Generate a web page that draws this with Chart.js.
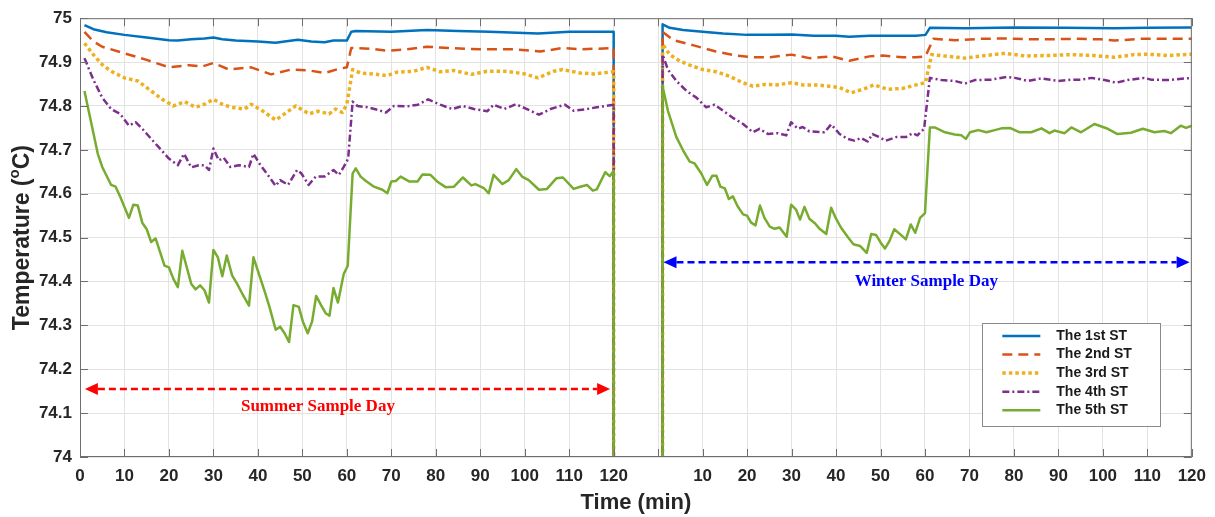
<!DOCTYPE html>
<html>
<head>
<meta charset="utf-8">
<script src="https://cdn.jsdelivr.net/npm/chart.js@4.4.1/dist/chart.umd.min.js"></script>
<style>
  html, body { margin: 0; padding: 0; background: #ffffff; }
  #wrap { width: 1215px; height: 517px; }
</style>
</head>
<body>
<div id="wrap"><canvas id="c" width="1215" height="517"></canvas></div>
<script>
// ---------------- DATA ----------------
const seriesNames = ['The 1st ST', 'The 2nd ST', 'The 3rd ST', 'The 4th ST', 'The 5th ST'];

// Summer sample day (minutes 1..120)
const st1SummerT = [1, 3, 6, 10, 15, 20, 22, 25, 28, 30, 32, 35, 40, 44, 46, 49, 52, 55, 57, 60, 61, 62, 70, 78, 85, 92, 103, 110, 120];
const st1SummerV = [74.984, 74.975, 74.968, 74.962, 74.956, 74.950, 74.949, 74.952, 74.954, 74.956, 74.952, 74.949, 74.947, 74.944, 74.947, 74.951, 74.947, 74.945, 74.949, 74.949, 74.969, 74.971, 74.969, 74.973, 74.971, 74.969, 74.965, 74.969, 74.969];

const st2SummerT = [1, 3, 5, 10, 15, 20, 24.5, 27.5, 30, 33.5, 38.5, 43, 47.5, 51.5, 55, 58, 60, 61, 66, 69, 73.5, 78, 83, 90, 97.5, 103.5, 108.5, 112.5, 120];
const st2SummerV = [74.969, 74.947, 74.935, 74.920, 74.905, 74.888, 74.893, 74.890, 74.898, 74.883, 74.888, 74.872, 74.883, 74.881, 74.875, 74.884, 74.888, 74.932, 74.930, 74.926, 74.929, 74.935, 74.932, 74.929, 74.929, 74.924, 74.932, 74.929, 74.932];

const st3SummerT = [1, 3, 5, 7, 10, 13, 15.5, 18.5, 21, 23.5, 26, 28, 30, 32, 34, 37, 38.5, 41, 44, 46, 48.5, 51.5, 53.5, 56, 57.5, 59, 60, 61.3, 63, 66, 69, 71.3, 75, 78, 81, 84, 88, 91.5, 96, 100, 103, 106.5, 108.5, 112.5, 115.5, 120];
const st3SummerV = [74.943, 74.917, 74.894, 74.879, 74.864, 74.857, 74.838, 74.815, 74.800, 74.810, 74.797, 74.804, 74.815, 74.804, 74.797, 74.793, 74.804, 74.789, 74.768, 74.782, 74.800, 74.782, 74.788, 74.782, 74.793, 74.785, 74.804, 74.883, 74.875, 74.873, 74.869, 74.877, 74.879, 74.888, 74.878, 74.881, 74.872, 74.879, 74.879, 74.873, 74.864, 74.879, 74.883, 74.875, 74.873, 74.878];

const st4SummerT = [1, 3, 5, 7, 9, 11, 12.5, 14, 16, 17.7, 20, 22, 23.4, 25, 26.7, 28, 29, 30, 31.2, 32.3, 33.8, 35.7, 38, 39, 40.6, 42, 44, 45, 46.8, 48.8, 49.8, 51.4, 53, 55, 57, 58.2, 59.3, 60.3, 61.3, 62.4, 64.6, 67, 68.8, 70.6, 73.6, 76, 78.3, 81, 83.7, 86, 88.6, 91.6, 93, 95.4, 98, 100.5, 103.2, 105.8, 109, 111, 114, 116.2, 120];
const st4SummerV = [74.909, 74.860, 74.819, 74.793, 74.782, 74.755, 74.763, 74.748, 74.725, 74.706, 74.680, 74.665, 74.691, 74.660, 74.665, 74.665, 74.654, 74.703, 74.676, 74.682, 74.661, 74.665, 74.661, 74.691, 74.665, 74.646, 74.618, 74.631, 74.620, 74.654, 74.646, 74.620, 74.639, 74.639, 74.654, 74.643, 74.661, 74.680, 74.810, 74.800, 74.797, 74.791, 74.785, 74.800, 74.799, 74.803, 74.815, 74.803, 74.793, 74.800, 74.793, 74.788, 74.803, 74.793, 74.804, 74.793, 74.780, 74.793, 74.803, 74.789, 74.793, 74.797, 74.803];

const st5SummerT = [1, 4, 5, 7, 8, 9, 11, 12, 13, 14, 15, 16, 17, 19, 20, 21, 22, 23, 25, 26, 27, 28, 29, 30, 31, 32, 33, 34.2, 35.3, 36.5, 38, 39, 40.6, 41.7, 42.6, 44, 45, 46, 47, 48, 49.2, 50.1, 51.2, 52.2, 53.1, 54.2, 55.3, 56.1, 57, 58, 59.3, 60.2, 61.3, 62, 63.1, 64.3, 66.1, 68, 69.1, 70, 71, 72.1, 74, 75.9, 77, 78.8, 80.3, 82.2, 84.1, 86.1, 88, 88.9, 90.8, 91.9, 93, 95, 96.4, 98.1, 99.4, 100.9, 103.2, 105, 107.1, 108.6, 111, 112.5, 114, 115.3, 116.2, 118.1, 119.1, 120];
const st5SummerV = [74.834, 74.691, 74.661, 74.620, 74.616, 74.594, 74.545, 74.575, 74.573, 74.534, 74.519, 74.490, 74.498, 74.436, 74.432, 74.406, 74.387, 74.470, 74.395, 74.382, 74.391, 74.380, 74.352, 74.472, 74.455, 74.412, 74.459, 74.414, 74.395, 74.372, 74.345, 74.455, 74.406, 74.372, 74.342, 74.290, 74.297, 74.282, 74.262, 74.346, 74.342, 74.309, 74.282, 74.309, 74.367, 74.346, 74.327, 74.322, 74.385, 74.352, 74.417, 74.436, 74.646, 74.658, 74.639, 74.629, 74.616, 74.609, 74.601, 74.628, 74.629, 74.639, 74.628, 74.628, 74.644, 74.643, 74.628, 74.615, 74.616, 74.637, 74.619, 74.622, 74.613, 74.601, 74.643, 74.622, 74.631, 74.656, 74.639, 74.631, 74.609, 74.611, 74.635, 74.637, 74.611, 74.616, 74.620, 74.607, 74.610, 74.649, 74.640, 74.652];

// Winter sample day (minutes 1..120)
const st1WinterT = [1, 2.6, 5.6, 10, 14.6, 20, 25, 30, 35, 40, 43, 47.5, 52, 58, 60.1, 61.1, 69, 80, 91.4, 102.6, 110, 120];
const st1WinterV = [74.986, 74.978, 74.973, 74.969, 74.965, 74.962, 74.962, 74.963, 74.960, 74.960, 74.958, 74.960, 74.960, 74.960, 74.962, 74.978, 74.977, 74.979, 74.978, 74.977, 74.978, 74.979];

const st2WinterT = [1, 3.4, 8, 13, 17.6, 21.3, 25, 30, 34, 39, 43, 47.5, 50.5, 55, 58, 60.1, 61.9, 66.7, 72.7, 78, 84, 89, 93.6, 99.6, 102.6, 108.6, 113, 120];
const st2WinterV = [74.969, 74.950, 74.938, 74.924, 74.915, 74.911, 74.911, 74.917, 74.909, 74.913, 74.903, 74.913, 74.915, 74.911, 74.911, 74.913, 74.953, 74.950, 74.953, 74.954, 74.952, 74.952, 74.953, 74.952, 74.949, 74.953, 74.953, 74.953];

const st3WinterT = [1, 2.6, 4.9, 7.1, 10, 13, 16, 19, 21.3, 24, 26.6, 30, 32.5, 35.5, 38.5, 40.8, 43.4, 46, 48.6, 51.6, 55, 58, 60.1, 61.5, 65.2, 69, 72.7, 78, 82.4, 87.7, 93, 98, 102.6, 107, 110, 114.6, 120];
const st3WinterV = [74.941, 74.917, 74.902, 74.893, 74.883, 74.878, 74.868, 74.853, 74.845, 74.849, 74.848, 74.853, 74.848, 74.848, 74.845, 74.842, 74.830, 74.838, 74.848, 74.838, 74.840, 74.848, 74.853, 74.917, 74.913, 74.909, 74.914, 74.920, 74.914, 74.915, 74.917, 74.915, 74.911, 74.917, 74.918, 74.915, 74.918];

const st4WinterT = [1, 2.2, 4.1, 6.4, 8.6, 10.8, 12.7, 14.6, 16.8, 19.1, 21.3, 22.8, 24.7, 26.9, 28.8, 29.9, 31.4, 32.5, 34, 37.4, 38.9, 40.8, 42.6, 44.1, 45.6, 47.1, 48.2, 49.7, 51.2, 53.5, 55.7, 57.2, 58.3, 59.8, 61.1, 63.7, 66.7, 69, 71.2, 74.9, 78.3, 80.2, 83.2, 86.2, 89.9, 92.9, 95.1, 97.4, 100.4, 103, 105.6, 109.3, 110.8, 114.6, 120];
const st4WinterV = [74.917, 74.883, 74.857, 74.834, 74.819, 74.797, 74.803, 74.789, 74.773, 74.759, 74.740, 74.748, 74.736, 74.738, 74.733, 74.763, 74.748, 74.752, 74.742, 74.740, 74.758, 74.736, 74.725, 74.721, 74.727, 74.719, 74.736, 74.729, 74.721, 74.729, 74.729, 74.738, 74.733, 74.748, 74.864, 74.859, 74.857, 74.851, 74.859, 74.860, 74.866, 74.864, 74.857, 74.863, 74.857, 74.860, 74.860, 74.864, 74.859, 74.853, 74.859, 74.864, 74.860, 74.859, 74.864];

const st5WinterT = [1, 2.2, 4.1, 5.6, 7.1, 8.2, 9.7, 11, 12.2, 13.1, 14, 15, 15.9, 16.8, 17.9, 19.1, 20, 20.9, 21.9, 22.9, 23.9, 25.1, 26.2, 27.3, 28.9, 29.9, 31, 31.9, 32.9, 34, 35.3, 36.3, 37.8, 38.9, 40, 41.1, 42.6, 43.9, 45.4, 46.9, 47.9, 49, 50, 51, 52, 53.1, 54.4, 55.7, 56.8, 57.8, 58.9, 60, 61.1, 62.2, 64.5, 66.7, 68.2, 69.2, 70.1, 72, 73.8, 75.7, 77.2, 79.1, 81.3, 83.9, 86.2, 88, 89.1, 91.4, 92.9, 95.1, 98.1, 101.1, 103.3, 106.3, 109, 111.6, 113.8, 115.3, 117.5, 118.7, 120];
const st5WinterV = [74.845, 74.789, 74.729, 74.699, 74.673, 74.669, 74.646, 74.620, 74.641, 74.641, 74.616, 74.612, 74.588, 74.594, 74.571, 74.553, 74.550, 74.534, 74.528, 74.573, 74.545, 74.525, 74.520, 74.523, 74.502, 74.575, 74.564, 74.541, 74.570, 74.543, 74.532, 74.520, 74.508, 74.568, 74.543, 74.523, 74.502, 74.485, 74.481, 74.465, 74.508, 74.506, 74.489, 74.475, 74.492, 74.519, 74.508, 74.496, 74.530, 74.511, 74.545, 74.556, 74.751, 74.751, 74.740, 74.735, 74.733, 74.725, 74.740, 74.745, 74.740, 74.745, 74.749, 74.750, 74.740, 74.740, 74.749, 74.738, 74.744, 74.738, 74.751, 74.740, 74.759, 74.748, 74.736, 74.739, 74.748, 74.740, 74.743, 74.738, 74.755, 74.750, 74.755];

// Axis: both days share one time axis; the winter day starts at this offset
const winterOffset = 130;
const resetValue = 73.0;   // sensor values drop out of range between the two days
const xTickValues = [0, 10, 20, 30, 40, 50, 60, 70, 80, 90, 100, 110, 120, 130, 140, 150, 160, 170, 180, 190, 200, 210, 220, 230, 240, 250];
const yTickValues = [74, 74.1, 74.2, 74.3, 74.4, 74.5, 74.6, 74.7, 74.8, 74.9, 75];

// Annotations (data coordinates)
const summerArrow = { x1: 1.1, x2: 119.2, y: 74.155, text: 'Summer Sample Day', tx: 53.5, ty: 74.115, color: '#ff0000' };
const winterArrow = { x1: 131.2, x2: 249.5, y: 74.444, text: 'Winter Sample Day', tx: 190.3, ty: 74.399, color: '#0000ff' };

// ---------------- BUILD ----------------
function buildSeries(sT, sV, wT, wV) {
  const pts = sT.map((t, i) => ({ x: t, y: sV[i] }));
  pts.push({ x: sT[sT.length - 1], y: resetValue });
  pts.push({ x: wT[0] + winterOffset, y: resetValue });
  wT.forEach((t, i) => pts.push({ x: t + winterOffset, y: wV[i] }));
  return pts;
}

const styles = [
  { color: '#0072BD', dash: [], width: 2.5 },
  { color: '#D95319', dash: [10, 6], width: 2.5 },
  { color: '#EDB120', dash: [3.5, 3], width: 3.5 },
  { color: '#7E2F8E', dash: [7, 3, 2, 3], width: 2.5 },
  { color: '#77AC30', dash: [], width: 2.5 }
];

const allData = [
  buildSeries(st1SummerT, st1SummerV, st1WinterT, st1WinterV),
  buildSeries(st2SummerT, st2SummerV, st2WinterT, st2WinterV),
  buildSeries(st3SummerT, st3SummerV, st3WinterT, st3WinterV),
  buildSeries(st4SummerT, st4SummerV, st4WinterT, st4WinterV),
  buildSeries(st5SummerT, st5SummerV, st5WinterT, st5WinterV)
];

const datasets = allData.map((d, i) => ({
  label: seriesNames[i],
  data: d,
  borderColor: styles[i].color,
  borderDash: styles[i].dash,
  borderWidth: styles[i].width,
  borderCapStyle: 'butt',
  borderJoinStyle: 'round',
  pointRadius: 0,
  tension: 0,
  fill: false,
  order: 5 - i
}));

const FONT = '"Liberation Sans", Arial, Helvetica, sans-serif';
const SERIF = '"Liberation Serif", "Times New Roman", serif';

const decorPlugin = {
  id: 'decor',
  afterDraw(chart) {
    const ctx = chart.ctx;
    const a = chart.chartArea;
    const xs = chart.scales.x, ys = chart.scales.y;
    ctx.save();
    // axes box
    ctx.strokeStyle = '#6e6e6e';
    ctx.lineWidth = 1;
    ctx.setLineDash([]);
    ctx.strokeRect(a.left + 0.5, a.top + 0.5, a.right - a.left - 1, a.bottom - a.top - 1);
    // inward ticks
    const tl = 8;
    ctx.strokeStyle = '#6e6e6e';
    ctx.beginPath();
    xTickValues.forEach(v => {
      const px = Math.round(xs.getPixelForValue(v)) + 0.5;
      ctx.moveTo(px, a.bottom); ctx.lineTo(px, a.bottom - tl);
      ctx.moveTo(px, a.top); ctx.lineTo(px, a.top + tl);
    });
    yTickValues.forEach(v => {
      const py = Math.round(ys.getPixelForValue(v)) + 0.5;
      ctx.moveTo(a.left, py); ctx.lineTo(a.left + tl, py);
      ctx.moveTo(a.right, py); ctx.lineTo(a.right - tl, py);
    });
    ctx.stroke();

    // arrows
    [summerArrow, winterArrow].forEach(ar => {
      const x1 = xs.getPixelForValue(ar.x1), x2 = xs.getPixelForValue(ar.x2);
      const y = ys.getPixelForValue(ar.y);
      const head = 13, hw = 6;
      ctx.strokeStyle = ar.color; ctx.fillStyle = ar.color;
      ctx.lineWidth = 2.5;
      ctx.setLineDash([7, 4]);
      ctx.beginPath(); ctx.moveTo(x1 + head, y); ctx.lineTo(x2 - head, y); ctx.stroke();
      ctx.setLineDash([]);
      ctx.beginPath(); ctx.moveTo(x1, y); ctx.lineTo(x1 + head, y - hw); ctx.lineTo(x1 + head, y + hw); ctx.closePath(); ctx.fill();
      ctx.beginPath(); ctx.moveTo(x2, y); ctx.lineTo(x2 - head, y - hw); ctx.lineTo(x2 - head, y + hw); ctx.closePath(); ctx.fill();
      ctx.font = 'bold 17px ' + SERIF;
      ctx.textAlign = 'center'; ctx.textBaseline = 'middle';
      ctx.fillText(ar.text, xs.getPixelForValue(ar.tx), ys.getPixelForValue(ar.ty));
    });

    // axis titles
    ctx.fillStyle = '#262626';
    ctx.font = 'bold 22px ' + FONT;
    ctx.textAlign = 'center'; ctx.textBaseline = 'middle';
    ctx.fillText('Time (min)', (a.left + a.right) / 2, 503);

    // y title with superscript o
    ctx.save();
    ctx.translate(23, (a.top + a.bottom) / 2);
    ctx.rotate(-Math.PI / 2);
    const big = 'bold 23px ' + FONT, small = 'bold 15px ' + FONT;
    ctx.font = big; const w1 = ctx.measureText('Temperature (').width;
    ctx.font = small; const w2 = ctx.measureText('o').width;
    ctx.font = big; const w3 = ctx.measureText('C)').width;
    let sx = -(w1 + w2 + w3) / 2;
    ctx.textAlign = 'left'; ctx.textBaseline = 'middle';
    ctx.font = big; ctx.fillText('Temperature (', sx, 0);
    ctx.font = small; ctx.fillText('o', sx + w1, -8);
    ctx.font = big; ctx.fillText('C)', sx + w1 + w2, 0);
    ctx.restore();

    // legend
    const lx0 = a.right - 209.5, lx1 = a.right - 31.5;
    const ly0 = a.bottom - 134.5, ly1 = a.bottom - 31.5;
    ctx.fillStyle = '#ffffff';
    ctx.fillRect(lx0, ly0, lx1 - lx0, ly1 - ly0);
    ctx.strokeStyle = '#8a8a8a'; ctx.lineWidth = 1;
    ctx.strokeRect(Math.round(lx0) + 0.5, Math.round(ly0) + 0.5, Math.round(lx1 - lx0), Math.round(ly1 - ly0));
    const rowY = [13.5, 32, 50.5, 69.3, 87.8];
    chart.data.datasets.forEach((ds, i) => {
      const y = ly0 + rowY[i];
      ctx.strokeStyle = ds.borderColor;
      ctx.lineWidth = ds.borderWidth;
      ctx.setLineDash(ds.borderDash);
      ctx.lineCap = 'butt';
      ctx.beginPath(); ctx.moveTo(lx0 + 20, y); ctx.lineTo(lx0 + 58, y); ctx.stroke();
      ctx.setLineDash([]);
      ctx.fillStyle = '#1a1a1a';
      ctx.font = 'bold 14px ' + FONT;
      ctx.textAlign = 'left'; ctx.textBaseline = 'middle';
      ctx.fillText(ds.label, lx0 + 74, y);
    });
    ctx.restore();
  }
};

new Chart(document.getElementById('c'), {
  type: 'line',
  data: { datasets },
  plugins: [decorPlugin],
  options: {
    responsive: false,
    animation: false,
    events: [],
    layout: { padding: { left: 0, top: 13, right: 23, bottom: 0 } },
    plugins: { legend: { display: false }, tooltip: { enabled: false }, title: { display: false } },
    scales: {
      x: {
        type: 'linear', min: 0, max: 250,
        afterFit: s => { s.height = 60; },
        afterBuildTicks: s => { s.ticks = xTickValues.map(v => ({ value: v })); },
        border: { display: false },
        grid: { color: '#e3e3e3', lineWidth: 1, drawTicks: false },
        ticks: {
          autoSkip: false, maxRotation: 0, padding: 9, color: '#262626',
          font: { family: FONT, size: 17, weight: 'bold' },
          callback: v => (v <= 120 ? String(v) : (v === winterOffset ? '' : String(v - winterOffset)))
        }
      },
      y: {
        type: 'linear', min: 74, max: 75,
        afterFit: s => { s.width = 80; },
        afterBuildTicks: s => { s.ticks = yTickValues.map(v => ({ value: v })); },
        border: { display: false },
        grid: { color: '#e3e3e3', lineWidth: 1, drawTicks: false },
        ticks: {
          padding: 8, color: '#262626',
          font: { family: FONT, size: 17, weight: 'bold' },
          callback: v => String(Number(v.toFixed(1)))
        }
      }
    }
  }
});
</script>
</body>
</html>
